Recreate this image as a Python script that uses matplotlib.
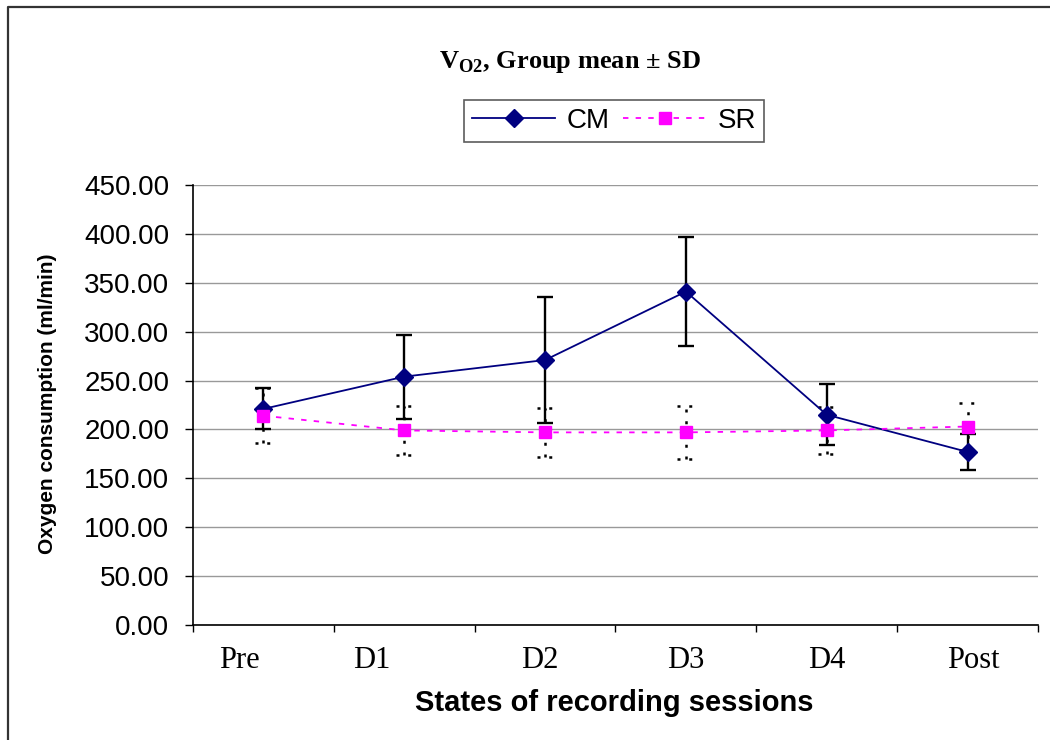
import matplotlib
matplotlib.use("Agg")
import matplotlib.pyplot as plt
import matplotlib.transforms as mtransforms
from matplotlib.lines import Line2D
import numpy as np

# Session labels and group statistics (ml/min)
categories = ["Pre", "D1", "D2", "D3", "D4", "Post"]
cm_mean = [221, 254, 271, 341, 215, 177]
cm_sd = [21, 43, 64, 56, 31, 18]
sr_mean = [214, 199, 197, 197, 199, 203]
sr_sd = [28, 25, 25, 27, 24, 24]
y_ticks = [0, 50, 100, 150, 200, 250, 300, 350, 400, 450]

# horizontal nudges of the category captions (in category units)
label_nudge = [-0.17, -0.23, -0.04, 0.0, 0.0, 0.04]

plt.rcParams["mathtext.fontset"] = "custom"
plt.rcParams["mathtext.rm"] = "Liberation Serif:bold"
plt.rcParams["mathtext.bf"] = "Liberation Serif:bold"

fig = plt.figure(figsize=(10.5, 7.4), dpi=100)
ax = fig.add_axes([193 / 1050, 1 - 625 / 740, (1038 - 193) / 1050, (625 - 185) / 740])

x = np.arange(len(categories))
navy = "#000080"
magenta = "#FF00FF"

# grid
ax.set_axisbelow(True)
ax.yaxis.grid(True, color="#999999", lw=1.0)
ax.xaxis.grid(False)

# CM: error bars, then line with diamonds
ax.errorbar(x, cm_mean, yerr=cm_sd, fmt="none", ecolor="black",
            elinewidth=1.7, capsize=6, capthick=1.7, zorder=3)
ax.plot(x, cm_mean, color=navy, lw=1.3, marker="D", markersize=9,
        markerfacecolor=navy, markeredgecolor=navy, label="CM", zorder=4)

# SR: sparse dotted error bars with dotted caps
sr_lo = np.array(sr_mean) - np.array(sr_sd)
sr_hi = np.array(sr_mean) + np.array(sr_sd)
dots = (0, (1.2, 3.5))
ax.vlines(x, sr_lo, sr_hi, colors="black", linestyles=[dots], lw=1.8, zorder=3)
cap_half = 0.06
ax.hlines(sr_lo, x - cap_half, x + cap_half, colors="black", linestyles=[dots], lw=1.8, zorder=3)
ax.hlines(sr_hi, x - cap_half, x + cap_half, colors="black", linestyles=[dots], lw=1.8, zorder=3)
ax.plot(x, sr_mean, color=magenta, lw=1.3, ls=(0, (3, 4)), marker="s", markersize=8,
        markerfacecolor=magenta, markeredgecolor=magenta, label="SR", zorder=5)

# axes
ax.set_xlim(-0.5, len(categories) - 0.5)
ax.set_ylim(0, 450)
ax.set_yticks(y_ticks)
ax.set_yticklabels([f"{v:.2f}" for v in y_ticks], fontfamily="Liberation Sans", fontsize=20)
ax.set_xticks(np.arange(len(categories) + 1) - 0.5)
ax.set_xticklabels([])
ax.tick_params(axis="y", direction="out", length=6, width=1, pad=11)
ax.tick_params(axis="x", direction="out", length=5, width=1)
for s in ("top", "right"):
    ax.spines[s].set_visible(False)
for s in ("left", "bottom"):
    ax.spines[s].set_linewidth(1.2)
    ax.spines[s].set_color("black")

# category captions
trans = mtransforms.blended_transform_factory(ax.transData, fig.transFigure)
for i, (lab, dx) in enumerate(zip(categories, label_nudge)):
    ax.text(i + dx, 1 - 660 / 740, lab, transform=trans, ha="center", va="center",
            fontfamily="Liberation Serif", fontsize=22)

fig.text(614 / 1050, 1 - 703 / 740, "States of recording sessions", ha="center", va="center",
         fontfamily="Liberation Sans", fontweight="bold", fontsize=21)
fig.text(48 / 1050, 1 - 404 / 740, "Oxygen consumption (ml/min)", ha="center", va="center",
         rotation=90, fontfamily="Liberation Sans", fontweight="bold", fontsize=15)
fig.text(570 / 1050, 1 - 62 / 740, r"V$_{\mathbf{O2}}$, Group mean ± SD", ha="center", va="center",
         fontfamily="Liberation Serif", fontweight="bold", fontsize=19)

leg = ax.legend(loc="center", bbox_to_anchor=(614 / 1050, 1 - 121 / 740),
                bbox_transform=fig.transFigure, ncol=2, frameon=True, fancybox=False,
                edgecolor="#333333", handlelength=3.0, columnspacing=0.5, handletextpad=0.4,
                borderpad=0.3, prop={"family": "Liberation Sans", "size": 20})
leg.get_frame().set_linewidth(1.2)

# outer frame of the chart area
fig.add_artist(Line2D([8 / 1050, 8 / 1050, 1.0], [0.0, 1 - 7 / 740, 1 - 7 / 740],
                      transform=fig.transFigure, color="#333333", lw=1.6))

fig.savefig("out.png", dpi=100)
